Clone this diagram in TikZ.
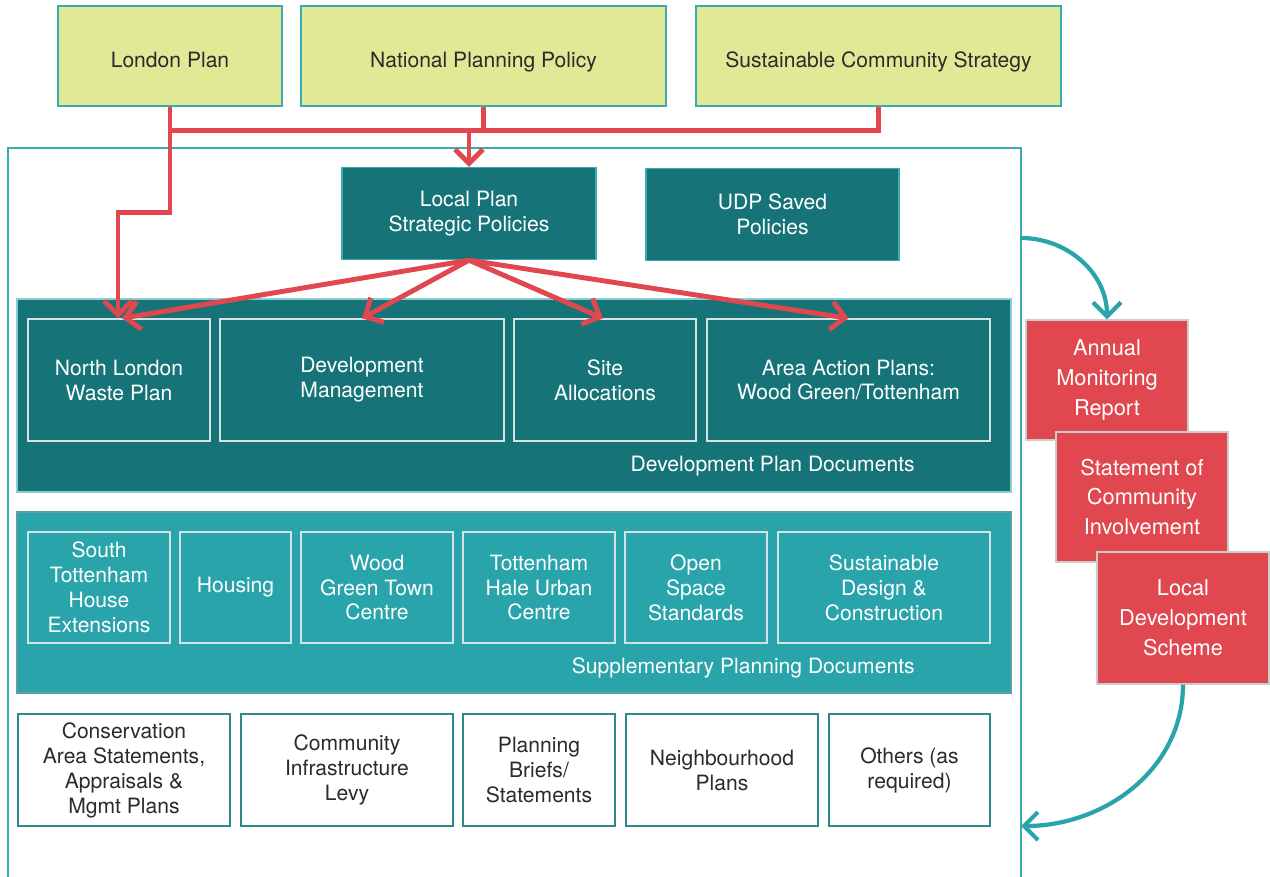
\documentclass[tikz,border=0pt]{standalone}
\usepackage{fontspec}
\setmainfont{TeX Gyre Heros}
\usepackage{tikz}
\usetikzlibrary{arrows.meta}

\definecolor{limefill}{HTML}{E2E996}
\definecolor{tealline}{HTML}{3AABB0}
\definecolor{darkteal}{HTML}{167479}
\definecolor{lightteal}{HTML}{28A4AA}
\definecolor{redfill}{HTML}{E0474F}
\definecolor{redline}{HTML}{E0474F}
\definecolor{darktext}{HTML}{2B2B2B}
\definecolor{paleline}{HTML}{D3E3E3}

\begin{document}
\begin{tikzpicture}[
  box/.style={rectangle, align=center, inner sep=0pt, line width=0.8pt, font=\fontsize{12}{14.2}\selectfont},
  topbox/.style={box, fill=limefill, draw=tealline, text=darktext, minimum height=2cm, text height=0.48cm, text depth=0.04cm},
  policybox/.style={box, fill=darkteal, draw=tealline, text=white, minimum height=1.84cm},
  dpdbox/.style={box, fill=darkteal, draw=paleline, text=white, minimum height=2.44cm},
  spdbox/.style={box, fill=lightteal, draw=paleline, text=white, minimum height=2.22cm},
  otherbox/.style={box, fill=white, draw=tealline!80!black, text=darktext, minimum height=2.24cm},
  reportbox/.style={box, fill=redfill, draw=black!20, text=white, font=\fontsize{12.4}{17}\selectfont},
  grouplabel/.style={anchor=east, inner sep=0pt, text=white, font=\fontsize{12}{14.2}\selectfont},
  redarrow/.style={draw=redline, line width=2.8pt, -{Straight Barb[length=2.8mm,width=5.6mm]}},
  redline/.style={draw=redline, line width=2.8pt},
  tealarrow/.style={draw=lightteal, line width=2.4pt, -{Straight Barb[length=2.8mm,width=5.6mm]}}
]
\useasboundingbox (0,0) rectangle (25.4,-17.52);

% outer frame of the local plan
\draw[tealline, line width=0.9pt] (0.16,-17.7) |- (20.42,-2.96) -- (20.42,-17.7);

% top level plans
\node[topbox, minimum width=4.48cm] (london) at (3.4,-1.12) {London Plan};
\node[topbox, minimum width=7.3cm] (npp) at (9.67,-1.12) {National Planning Policy};
\node[topbox, minimum width=7.3cm] (scs) at (17.57,-1.12) {Sustainable Community Strategy};

% policies
\node[policybox, minimum width=5.08cm] (lpsp) at (9.38,-4.27) {Local Plan\\Strategic Policies};
\node[policybox, minimum width=5.06cm] (udp) at (15.45,-4.29) {UDP Saved\\Policies};

% development plan documents
\fill[darkteal] (0.34,-5.98) rectangle (20.22,-9.84);
\draw[tealline!60, line width=0.6pt] (0.34,-5.98) rectangle (20.22,-9.84);
\node[dpdbox, minimum width=3.64cm] (nlwp) at (2.38,-7.6) {North London\\Waste Plan};
\node[dpdbox, minimum width=5.68cm] (devman) at (7.24,-7.6) {Development\\Management};
\node[dpdbox, minimum width=3.64cm] (siteall) at (12.1,-7.6) {Site\\Allocations};
\node[dpdbox, minimum width=5.66cm] (aap) at (16.97,-7.6) {Area Action Plans:\\Wood Green/Tottenham};
\node[grouplabel] (dpdlabel) at (18.3,-9.32) {Development Plan Documents};

% supplementary planning documents
\fill[lightteal] (0.34,-10.24) rectangle (20.22,-13.86);
\draw[darkteal!70, line width=0.6pt] (0.34,-10.24) rectangle (20.22,-13.86);
\node[spdbox, minimum width=2.84cm] (sth) at (1.98,-11.75) {South\\Tottenham\\House\\Extensions};
\node[spdbox, minimum width=2.22cm] (housing) at (4.71,-11.75) {Housing};
\node[spdbox, minimum width=3.04cm] (wgtc) at (7.54,-11.75) {Wood\\Green Town\\Centre};
\node[spdbox, minimum width=3.04cm] (thuc) at (10.78,-11.75) {Tottenham\\Hale Urban\\Centre};
\node[spdbox, minimum width=2.84cm] (oss) at (13.92,-11.75) {Open\\Space\\Standards};
\node[spdbox, minimum width=4.24cm] (sdc) at (17.68,-11.75) {Sustainable\\Design \&\\Construction};
\node[grouplabel] (spdlabel) at (18.3,-13.36) {Supplementary Planning Documents};

% other documents
\node[otherbox, minimum width=4.24cm] (cons) at (2.48,-15.4) {Conservation\\Area Statements,\\Appraisals \&\\Mgmt Plans};
\node[otherbox, minimum width=4.24cm] (cil) at (6.94,-15.4) {Community\\Infrastructure\\Levy};
\node[otherbox, minimum width=3.04cm] (pbs) at (10.78,-15.4) {Planning\\Briefs/\\Statements};
\node[otherbox, minimum width=3.84cm] (nhp) at (14.44,-15.4) {Neighbourhood\\Plans};
\node[otherbox, minimum width=3.22cm] (others) at (18.19,-15.4) {Others (as\\required)};

% monitoring and process documents
\node[reportbox, minimum width=3.24cm, minimum height=2.4cm] (amr) at (22.14,-7.6) {Annual\\Monitoring\\Report};
\node[reportbox, minimum width=3.44cm, minimum height=2.6cm] (sci) at (22.84,-9.94) {Statement of\\Community\\Involvement};
\node[reportbox, minimum width=3.44cm, minimum height=2.64cm] (lds) at (23.66,-12.36) {Local\\Development\\Scheme};

% red connectors
\draw[redline] (london.south) -- ++(0,-0.48) coordinate (busL) -- (busL -| scs.south) -- (scs.south);
\draw[redline] (npp.south) -- (npp.south |- busL);
\draw[redarrow] (busL -| lpsp.north) -- (lpsp.north);
\draw[redarrow] (busL) -- ++(0,-1.64) -| ([xshift=-0.02cm]nlwp.north);
\draw[redarrow] (lpsp.south) -- ([xshift=0.06cm]nlwp.north);
\draw[redarrow] (lpsp.south) -- (devman.north);
\draw[redarrow] (lpsp.south) -- ([xshift=-0.04cm]siteall.north);
\draw[redarrow] (lpsp.south) -- (aap.north);

% teal loop
\coordinate (framein) at (20.42,-4.76);
\coordinate (frameout) at (20.42,-16.52);
\draw[tealarrow] (framein) to[out=0,in=90] (amr.north);
\draw[tealarrow] (lds.south) to[out=-90,in=0] (frameout);
\end{tikzpicture}
\end{document}
